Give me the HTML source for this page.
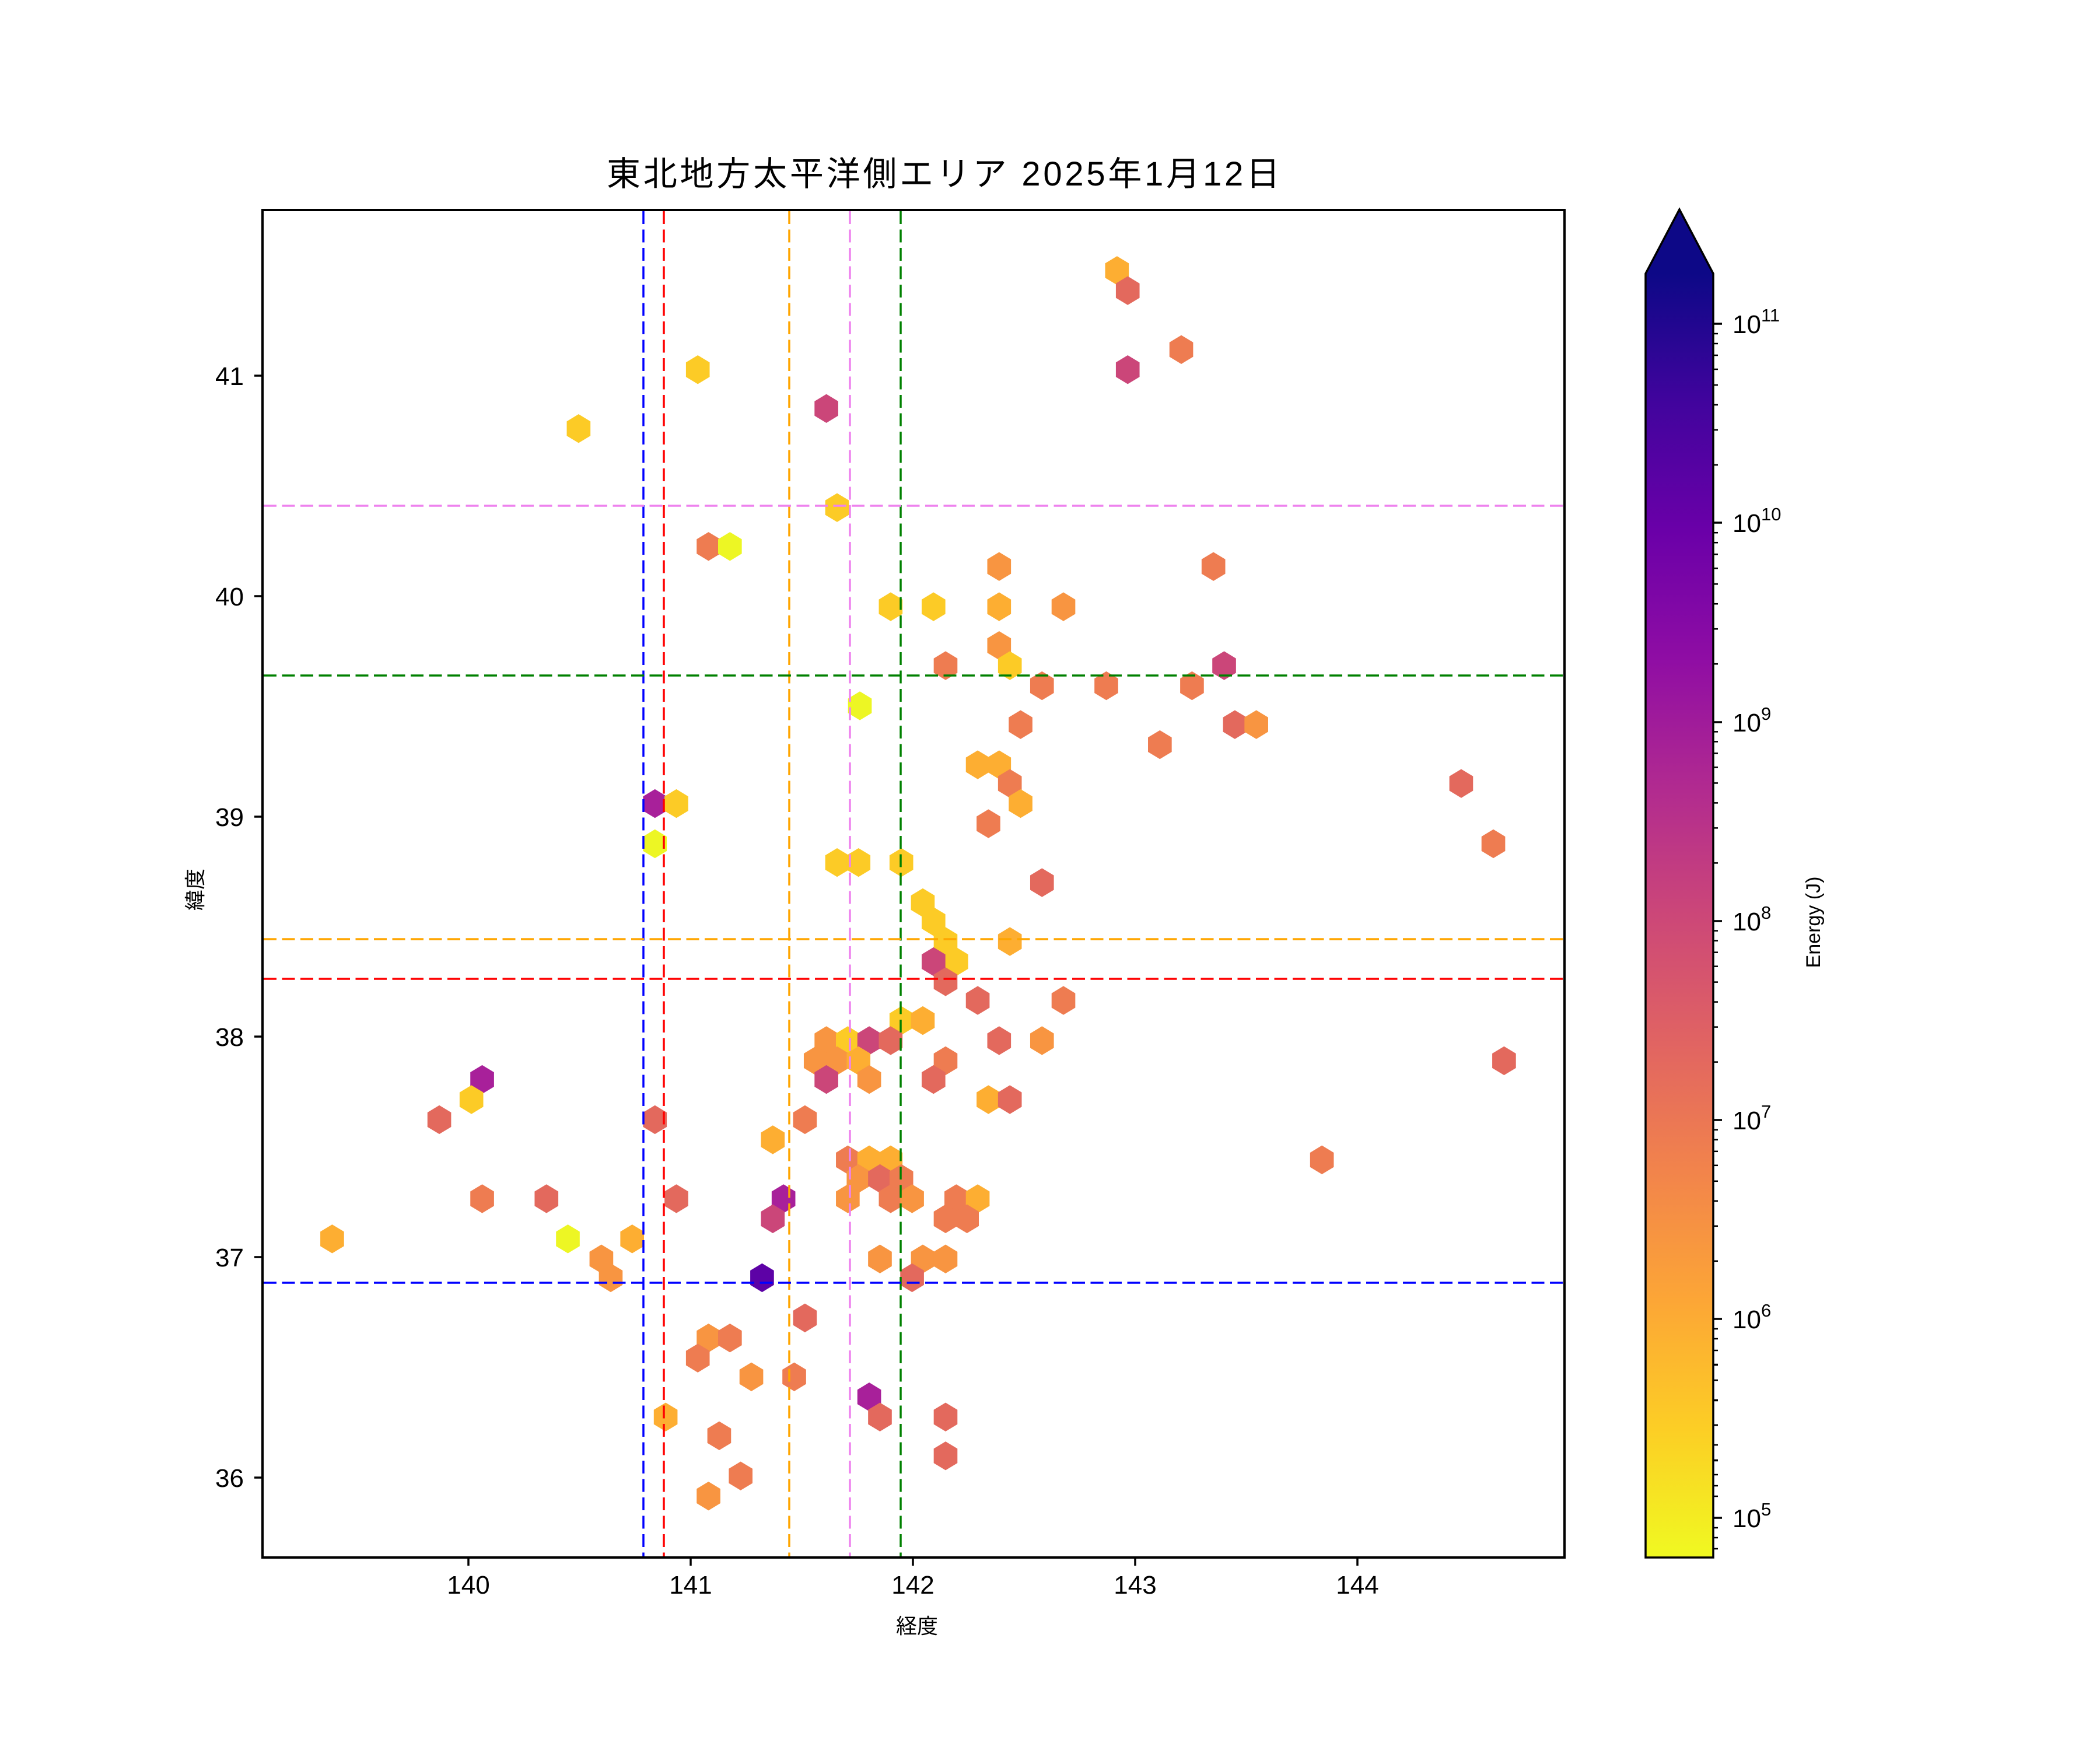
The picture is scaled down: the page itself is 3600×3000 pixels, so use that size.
<!DOCTYPE html>
<html><head><meta charset="utf-8"><style>html,body{margin:0;padding:0;background:#fff}svg{display:block}text{font-family:"Liberation Sans","Noto Sans CJK JP",sans-serif;fill:#000}</style></head>
<body>
<svg xmlns="http://www.w3.org/2000/svg" xmlns:xlink="http://www.w3.org/1999/xlink" width="3600" height="3000" viewBox="0 0 3600 3000">
<defs>
<polygon id="h" points="0,-10.75 8.85,-5.4 8.85,5.4 0,10.75 -8.85,5.4 -8.85,-5.4"/>
<linearGradient id="cm" x1="0" y1="0" x2="0" y2="1">
<stop offset="0" stop-color="#0d0887"/><stop offset="0.1" stop-color="#41049d"/><stop offset="0.2" stop-color="#6a00a8"/><stop offset="0.3" stop-color="#8f0da4"/><stop offset="0.4" stop-color="#b12a90"/><stop offset="0.5" stop-color="#cc4778"/><stop offset="0.6" stop-color="#e16462"/><stop offset="0.7" stop-color="#f2844b"/><stop offset="0.8" stop-color="#fca636"/><stop offset="0.9" stop-color="#fcce25"/><stop offset="1" stop-color="#f0f921"/>
</linearGradient>
<style>.Y{fill:#edf624}.LY{fill:#fccb26}.O1{fill:#fdae32}.O2{fill:#f89541}.O3{fill:#ee7c51}.R{fill:#e3695d}.P{fill:#cb4679}.M{fill:#a8209a}.V{fill:#5d02a6}</style>
</defs>
<text x="1040" y="318" font-size="58" textLength="1154">東北地方太平洋側エリア 2025年1月12日</text>
<g transform="scale(2.296)">
<use href="#h" x="834" y="202" class="O1"/><use href="#h" x="842" y="217" class="R"/><use href="#h" x="882" y="261" class="O3"/><use href="#h" x="842" y="276" class="P"/><use href="#h" x="521" y="276" class="LY"/><use href="#h" x="617" y="305" class="P"/><use href="#h" x="432" y="320" class="LY"/><use href="#h" x="625" y="379" class="LY"/><use href="#h" x="529" y="408" class="O3"/><use href="#h" x="545" y="408" class="Y"/><use href="#h" x="746" y="423" class="O2"/><use href="#h" x="906" y="423" class="O3"/><use href="#h" x="665" y="453" class="LY"/><use href="#h" x="697" y="453" class="LY"/><use href="#h" x="746" y="453" class="O1"/><use href="#h" x="794" y="453" class="O2"/><use href="#h" x="746" y="482" class="O2"/><use href="#h" x="706" y="497" class="O3"/><use href="#h" x="754" y="497" class="LY"/><use href="#h" x="778" y="512" class="O3"/><use href="#h" x="826" y="512" class="O3"/><use href="#h" x="890" y="512" class="O3"/><use href="#h" x="914" y="497" class="P"/><use href="#h" x="642" y="527" class="Y"/><use href="#h" x="762" y="541" class="O3"/><use href="#h" x="866" y="556" class="O3"/><use href="#h" x="922" y="541" class="R"/><use href="#h" x="938" y="541" class="O2"/><use href="#h" x="730" y="571" class="O1"/><use href="#h" x="746" y="571" class="O1"/><use href="#h" x="754" y="585" class="O3"/><use href="#h" x="1091" y="585" class="R"/><use href="#h" x="489" y="600" class="M"/><use href="#h" x="505" y="600" class="LY"/><use href="#h" x="762" y="600" class="O1"/><use href="#h" x="738" y="615" class="O3"/><use href="#h" x="489" y="630" class="Y"/><use href="#h" x="625" y="644" class="LY"/><use href="#h" x="641" y="644" class="LY"/><use href="#h" x="673" y="644" class="LY"/><use href="#h" x="1115" y="630" class="O3"/><use href="#h" x="778" y="659" class="R"/><use href="#h" x="689" y="674" class="LY"/><use href="#h" x="697" y="688" class="LY"/><use href="#h" x="754" y="703" class="O1"/><use href="#h" x="706" y="703" class="LY"/><use href="#h" x="714" y="718" class="LY"/><use href="#h" x="697" y="718" class="P"/><use href="#h" x="706" y="733" class="R"/><use href="#h" x="730" y="747" class="R"/><use href="#h" x="794" y="747" class="O3"/><use href="#h" x="673" y="762" class="LY"/><use href="#h" x="689" y="762" class="O1"/><use href="#h" x="617" y="777" class="O2"/><use href="#h" x="633" y="777" class="LY"/><use href="#h" x="649" y="777" class="P"/><use href="#h" x="665" y="777" class="R"/><use href="#h" x="746" y="777" class="R"/><use href="#h" x="778" y="777" class="O2"/><use href="#h" x="609" y="792" class="O2"/><use href="#h" x="625" y="792" class="O2"/><use href="#h" x="641" y="792" class="O1"/><use href="#h" x="706" y="792" class="O3"/><use href="#h" x="1123" y="792" class="R"/><use href="#h" x="617" y="806" class="P"/><use href="#h" x="649" y="806" class="O2"/><use href="#h" x="697" y="806" class="R"/><use href="#h" x="360" y="806" class="M"/><use href="#h" x="328" y="836" class="R"/><use href="#h" x="352" y="821" class="LY"/><use href="#h" x="738" y="821" class="O1"/><use href="#h" x="754" y="821" class="R"/><use href="#h" x="489" y="836" class="R"/><use href="#h" x="601" y="836" class="O3"/><use href="#h" x="577" y="851" class="O1"/><use href="#h" x="633" y="866" class="O3"/><use href="#h" x="649" y="866" class="O1"/><use href="#h" x="665" y="866" class="O1"/><use href="#h" x="987" y="866" class="O3"/><use href="#h" x="641" y="880" class="O2"/><use href="#h" x="657" y="880" class="R"/><use href="#h" x="673" y="880" class="O3"/><use href="#h" x="360" y="895" class="O3"/><use href="#h" x="408" y="895" class="R"/><use href="#h" x="505" y="895" class="R"/><use href="#h" x="585" y="895" class="M"/><use href="#h" x="633" y="895" class="O2"/><use href="#h" x="665" y="895" class="O3"/><use href="#h" x="681" y="895" class="O2"/><use href="#h" x="714" y="895" class="O3"/><use href="#h" x="730" y="895" class="O1"/><use href="#h" x="706" y="910" class="O3"/><use href="#h" x="722" y="910" class="O3"/><use href="#h" x="577" y="910" class="P"/><use href="#h" x="248" y="925" class="O1"/><use href="#h" x="424" y="925" class="Y"/><use href="#h" x="472" y="925" class="O1"/><use href="#h" x="449" y="940" class="O2"/><use href="#h" x="456" y="954" class="O2"/><use href="#h" x="569" y="954" class="V"/><use href="#h" x="689" y="940" class="O2"/><use href="#h" x="706" y="940" class="O2"/><use href="#h" x="657" y="940" class="O2"/><use href="#h" x="681" y="954" class="R"/><use href="#h" x="601" y="984" class="R"/><use href="#h" x="529" y="999" class="O2"/><use href="#h" x="545" y="999" class="O3"/><use href="#h" x="521" y="1014" class="O3"/><use href="#h" x="561" y="1028" class="O2"/><use href="#h" x="593" y="1028" class="O3"/><use href="#h" x="649" y="1043" class="M"/><use href="#h" x="497" y="1058" class="O1"/><use href="#h" x="657" y="1058" class="R"/><use href="#h" x="706" y="1058" class="R"/><use href="#h" x="537" y="1072" class="O3"/><use href="#h" x="553" y="1102" class="O3"/><use href="#h" x="706" y="1087" class="R"/><use href="#h" x="529" y="1117" class="O2"/>
</g>
<g stroke-width="3.5" stroke-dasharray="22 9.5" fill="none">
<line x1="1103" y1="362" x2="1103" y2="2669" stroke="#0000ff"/>
<line x1="1138" y1="362" x2="1138" y2="2669" stroke="#ff0000"/>
<line x1="1353" y1="362" x2="1353" y2="2669" stroke="#ffa500"/>
<line x1="1457" y1="362" x2="1457" y2="2669" stroke="#ee82ee"/>
<line x1="1544" y1="362" x2="1544" y2="2669" stroke="#008000"/>
<line x1="452" y1="867" x2="2680" y2="867" stroke="#ee82ee"/>
<line x1="452" y1="1158" x2="2680" y2="1158" stroke="#008000"/>
<line x1="452" y1="1610" x2="2680" y2="1610" stroke="#ffa500"/>
<line x1="452" y1="1678" x2="2680" y2="1678" stroke="#ff0000"/>
<line x1="452" y1="2199" x2="2680" y2="2199" stroke="#0000ff"/>
</g>
<rect x="450" y="360" width="2232" height="2310" fill="none" stroke="#000" stroke-width="4"/>
<g stroke="#000" stroke-width="3.5">
<line x1="803" y1="2670" x2="803" y2="2684"/><line x1="1184" y1="2670" x2="1184" y2="2684"/><line x1="1565" y1="2670" x2="1565" y2="2684"/><line x1="1946" y1="2670" x2="1946" y2="2684"/><line x1="2327" y1="2670" x2="2327" y2="2684"/>
<line x1="436" y1="644" x2="450" y2="644"/><line x1="436" y1="1022" x2="450" y2="1022"/><line x1="436" y1="1400" x2="450" y2="1400"/><line x1="436" y1="1777" x2="450" y2="1777"/><line x1="436" y1="2155" x2="450" y2="2155"/><line x1="436" y1="2533" x2="450" y2="2533"/>
</g>
<g font-size="44" text-anchor="middle">
<text x="803" y="2732">140</text><text x="1184" y="2732">141</text><text x="1565" y="2732">142</text><text x="1946" y="2732">143</text><text x="2327" y="2732">144</text>
</g>
<g font-size="44" text-anchor="end">
<text x="418" y="660">41</text><text x="418" y="1038">40</text><text x="418" y="1416">39</text><text x="418" y="1793">38</text><text x="418" y="2171">37</text><text x="418" y="2549">36</text>
</g>
<text x="1572" y="2800" font-size="36" text-anchor="middle">経度</text>
<text transform="translate(347,1525) rotate(-90)" font-size="36" text-anchor="middle">緯度</text>
<path d="M2821,2670 L2821,469 L2879,359 L2937,469 L2937,2670 Z" fill="#0d0887"/>
<rect x="2821" y="469" width="116" height="2201" fill="url(#cm)"/>
<path d="M2821,2670 L2821,469 L2879,359 L2937,469 L2937,2670 Z" fill="none" stroke="#000" stroke-width="3.5"/>
<g stroke="#000" stroke-width="3.5">
<line x1="2937" y1="555" x2="2952" y2="555"/><line x1="2937" y1="896" x2="2952" y2="896"/><line x1="2937" y1="1238" x2="2952" y2="1238"/><line x1="2937" y1="1579" x2="2952" y2="1579"/><line x1="2937" y1="1920" x2="2952" y2="1920"/><line x1="2937" y1="2261" x2="2952" y2="2261"/><line x1="2937" y1="2602" x2="2952" y2="2602"/>
</g>
<g stroke="#000" stroke-width="2.5" id="minor">
<line x1="2937" y1="572" x2="2945" y2="572"/><line x1="2937" y1="589" x2="2945" y2="589"/><line x1="2937" y1="609" x2="2945" y2="609"/><line x1="2937" y1="633" x2="2945" y2="633"/><line x1="2937" y1="660" x2="2945" y2="660"/><line x1="2937" y1="694" x2="2945" y2="694"/><line x1="2937" y1="737" x2="2945" y2="737"/><line x1="2937" y1="797" x2="2945" y2="797"/>
</g>
<use href="#minor" y="341.2"/><use href="#minor" y="682.4"/><use href="#minor" y="1023.6"/><use href="#minor" y="1364.8"/><use href="#minor" y="1706"/>
<g stroke="#000" stroke-width="2.5">
<line x1="2937" y1="2340" x2="2945" y2="2340"/><line x1="2937" y1="2401" x2="2945" y2="2401"/><line x1="2937" y1="2443" x2="2945" y2="2443"/><line x1="2937" y1="2477" x2="2945" y2="2477"/><line x1="2937" y1="2504" x2="2945" y2="2504"/><line x1="2937" y1="2528" x2="2945" y2="2528"/><line x1="2937" y1="2547" x2="2945" y2="2547"/><line x1="2937" y1="2565" x2="2945" y2="2565"/>
<line x1="2937" y1="2619" x2="2945" y2="2619"/><line x1="2937" y1="2636" x2="2945" y2="2636"/><line x1="2937" y1="2655" x2="2945" y2="2655"/>
</g>
<g font-size="44">
<text x="2970" y="571">10<tspan font-size="31" dy="-20">11</tspan></text>
<text x="2970" y="912">10<tspan font-size="31" dy="-20">10</tspan></text>
<text x="2970" y="1254">10<tspan font-size="31" dy="-20">9</tspan></text>
<text x="2970" y="1595">10<tspan font-size="31" dy="-20">8</tspan></text>
<text x="2970" y="1936">10<tspan font-size="31" dy="-20">7</tspan></text>
<text x="2970" y="2277">10<tspan font-size="31" dy="-20">6</tspan></text>
<text x="2970" y="2618">10<tspan font-size="31" dy="-20">5</tspan></text>
</g>
<text transform="translate(3120,1581) rotate(-90)" font-size="34" text-anchor="middle">Energy (J)</text>
</svg>
</body></html>
